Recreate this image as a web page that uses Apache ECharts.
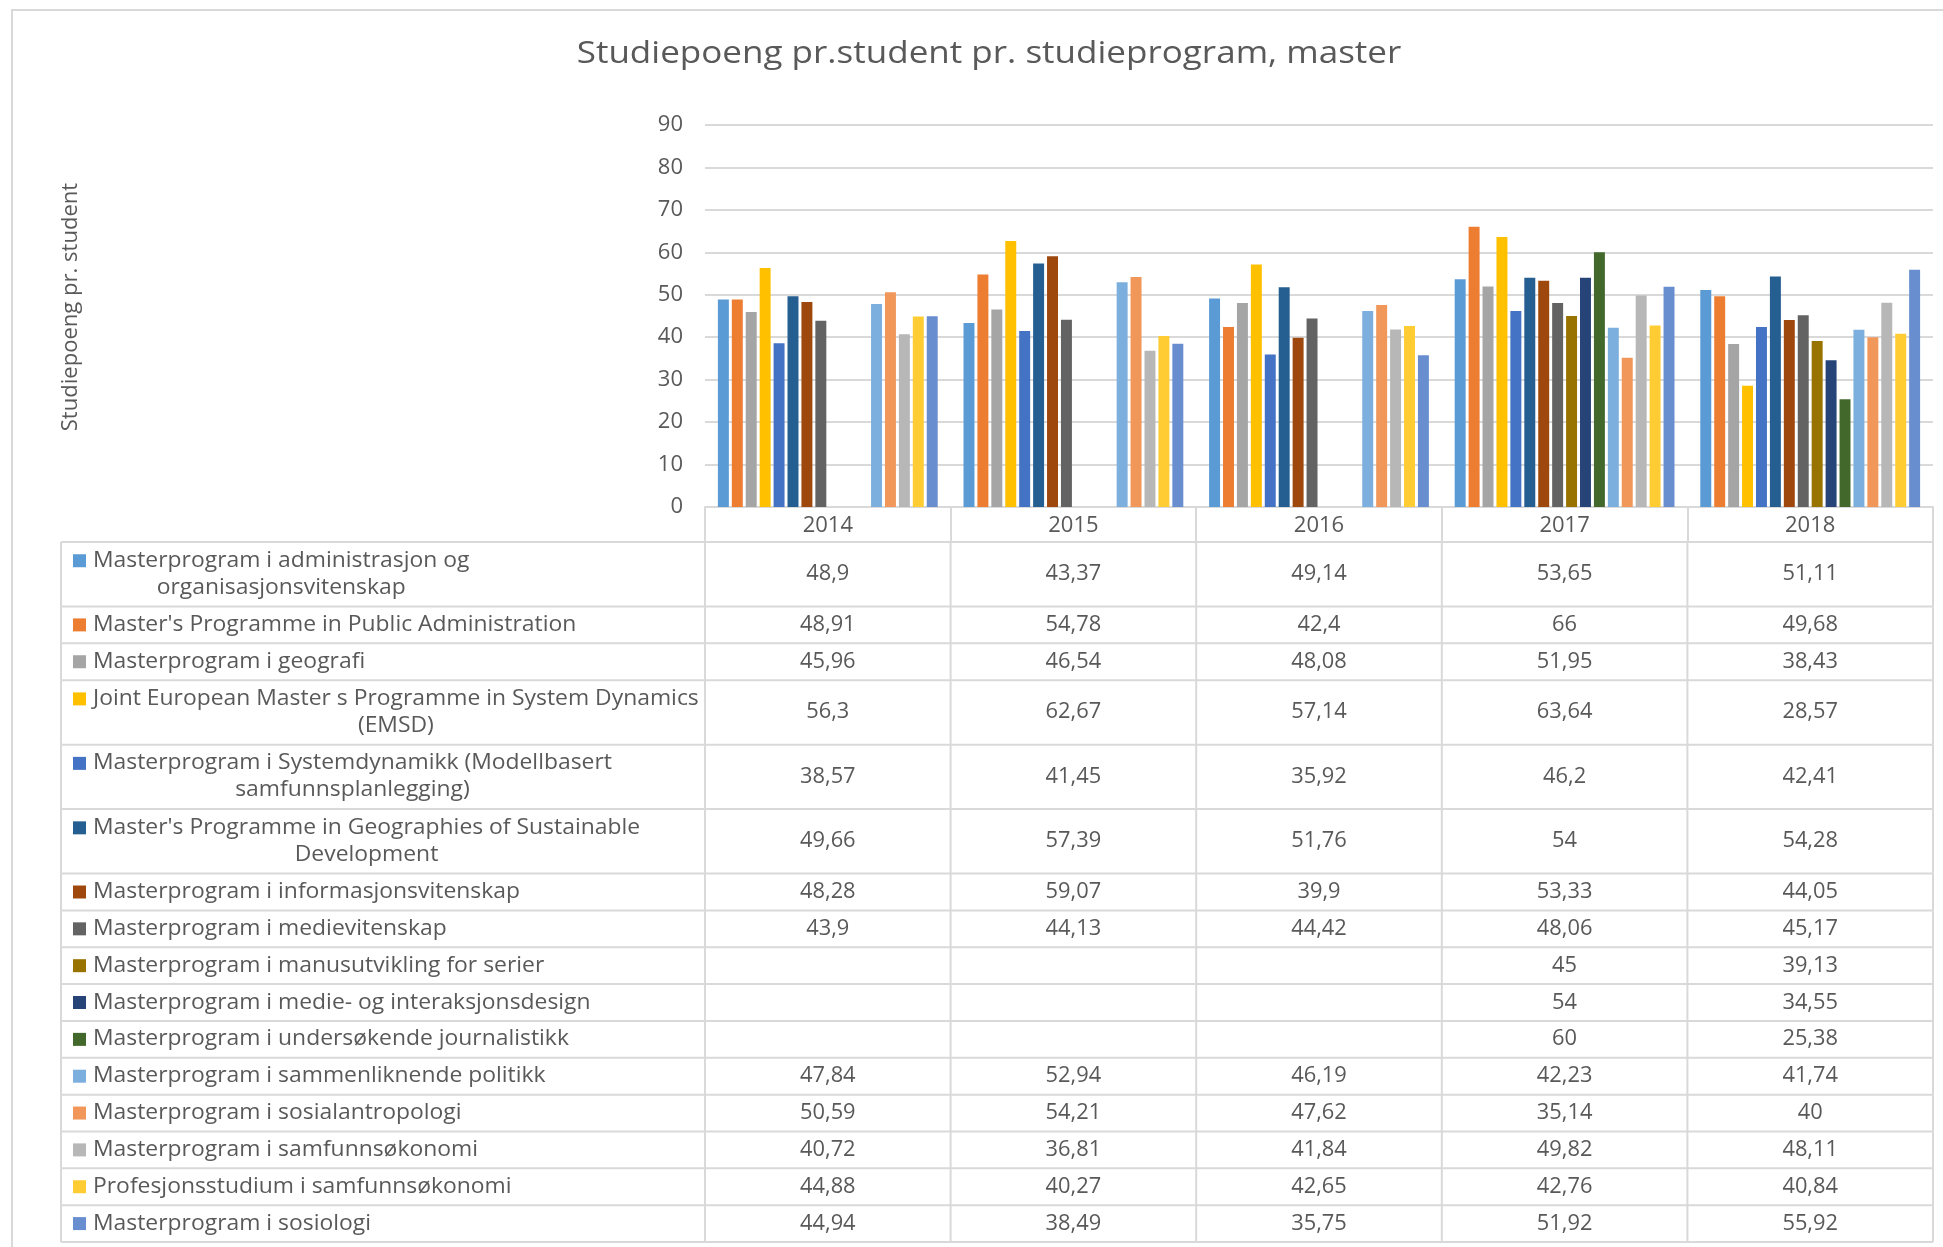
<!DOCTYPE html>
<html><head><meta charset="utf-8">
<script src="https://cdn.jsdelivr.net/npm/echarts/dist/echarts.min.js"></script>
<style>html,body{margin:0;padding:0;background:#fff}#c{width:1943px;height:1247px}</style>
</head><body><div id="c"></div><script>
const categories = ['2014', '2015', '2016', '2017', '2018'];
const seriesNames = [
  'Masterprogram i administrasjon og\norganisasjonsvitenskap',
  "Master's Programme in Public Administration",
  'Masterprogram i geografi',
  'Joint European Master s Programme in System Dynamics\n(EMSD)',
  'Masterprogram i Systemdynamikk (Modellbasert\nsamfunnsplanlegging)',
  "Master's Programme in Geographies of Sustainable\nDevelopment",
  'Masterprogram i informasjonsvitenskap',
  'Masterprogram i medievitenskap',
  'Masterprogram i manusutvikling for serier',
  'Masterprogram i medie- og interaksjonsdesign',
  'Masterprogram i undersøkende journalistikk',
  'Masterprogram i sammenliknende politikk',
  'Masterprogram i sosialantropologi',
  'Masterprogram i samfunnsøkonomi',
  'Profesjonsstudium i samfunnsøkonomi',
  'Masterprogram i sosiologi'
];
const adminOrg      = [48.9, 43.37, 49.14, 53.65, 51.11];
const publicAdmin   = [48.91, 54.78, 42.4, 66, 49.68];
const geografi      = [45.96, 46.54, 48.08, 51.95, 38.43];
const emsd          = [56.3, 62.67, 57.14, 63.64, 28.57];
const systemdyn     = [38.57, 41.45, 35.92, 46.2, 42.41];
const geoSustain    = [49.66, 57.39, 51.76, 54, 54.28];
const informasjon   = [48.28, 59.07, 39.9, 53.33, 44.05];
const medievit      = [43.9, 44.13, 44.42, 48.06, 45.17];
const manus         = [null, null, null, 45, 39.13];
const medieInter    = [null, null, null, 54, 34.55];
const journalistikk = [null, null, null, 60, 25.38];
const sammenPol     = [47.84, 52.94, 46.19, 42.23, 41.74];
const sosialantro   = [50.59, 54.21, 47.62, 35.14, 40];
const samfOkMaster  = [40.72, 36.81, 41.84, 49.82, 48.11];
const samfOkProf    = [44.88, 40.27, 42.65, 42.76, 40.84];
const sosiologi     = [44.94, 38.49, 35.75, 51.92, 55.92];
const seriesValues = [adminOrg, publicAdmin, geografi, emsd, systemdyn, geoSustain, informasjon, medievit,
  manus, medieInter, journalistikk, sammenPol, sosialantro, samfOkMaster, samfOkProf, sosiologi];
const yMin = 0, yMax = 90, yStep = 10;

const colors = ['#5B9BD5', '#ED7D31', '#A5A5A5', '#FFC000', '#4472C4', '#255E91', '#9E480E', '#636363',
  '#997300', '#264478', '#43682B', '#7CAFDD', '#F1975A', '#B7B7B7', '#FFCD33', '#698ED0'];

const FONT = '"Open Sans", sans-serif';
const TEXT = '#595959';
const LINE = '#d9d9d9';
const LW = 2;
const TABLE_LEFT = 61;
const LABEL_X = 93;
const KEY_X = 73;
const LABEL_SIZE = 21;
const LABEL_SX = 1.09;
const VALUE_SIZE = 21;
const LINE_H = 27;

const measureCtx = document.createElement('canvas').getContext('2d');
function textWidth(t, size) { measureCtx.font = size + 'px ' + FONT; return measureCtx.measureText(t).width; }
function fmt(v) { return v == null ? '' : String(v).replace('.', ','); }

// table row layout in row-units (two-line rows are taller)
let acc = 0;
const rowData = seriesNames.map((n, i) => {
  const h = n.indexOf('\n') >= 0 ? 1.75 : 1;
  const r = [0, acc, acc + h, i];
  acc += h;
  return r;
});
const totalUnits = acc;

function renderRow(params, api) {
  const i = api.value(3);
  const cs = params.coordSys;
  const yTop = api.coord([0, api.value(1)])[1];
  const yBot = api.coord([0, api.value(2)])[1];
  const mid = (yTop + yBot) / 2;
  const right = cs.x + cs.width;
  const band = cs.width / categories.length;
  const ls = { stroke: LINE, lineWidth: LW };
  const ch = [];
  if (i === 0) ch.push({ type: 'line', shape: { x1: TABLE_LEFT, y1: yTop, x2: right, y2: yTop }, style: ls });
  ch.push({ type: 'line', shape: { x1: TABLE_LEFT, y1: yBot, x2: right, y2: yBot }, style: ls });
  ch.push({ type: 'line', shape: { x1: TABLE_LEFT, y1: yTop, x2: TABLE_LEFT, y2: yBot }, style: ls });
  for (let j = 0; j <= categories.length; j++) {
    const x = cs.x + j * band;
    ch.push({ type: 'line', shape: { x1: x, y1: yTop, x2: x, y2: yBot }, style: ls });
  }
  const name = seriesNames[i];
  const lines = name.split('\n');
  const firstY = mid - LINE_H * (lines.length - 1) / 2;
  ch.push({ type: 'rect', shape: { x: KEY_X, y: firstY - 6.5, width: 13, height: 13 }, style: { fill: colors[i] } });
  if (lines.length === 1) {
    ch.push({ type: 'text', x: LABEL_X, y: mid, scaleX: LABEL_SX, style: { text: name, align: 'left', verticalAlign: 'middle',
      fontSize: LABEL_SIZE, fontFamily: FONT, fill: TEXT } });
  } else {
    ch.push({ type: 'text', x: LABEL_X + LABEL_SX * textWidth(lines[0], LABEL_SIZE) / 2, y: mid, scaleX: LABEL_SX, style: { text: name,
      align: 'center', verticalAlign: 'middle', lineHeight: LINE_H, fontSize: LABEL_SIZE, fontFamily: FONT, fill: TEXT } });
  }
  seriesValues[i].forEach((v, j) => {
    if (v == null) return;
    const x = api.coord([j, 0])[0];
    ch.push({ type: 'text', x: x, y: mid, scaleX: 1.04, style: { text: fmt(v), align: 'center', verticalAlign: 'middle',
      fontSize: VALUE_SIZE, fontFamily: FONT, fill: TEXT } });
  });
  return { type: 'group', children: ch };
}

const chart = echarts.init(document.getElementById('c'), null, { renderer: 'canvas' });
const barSeries = seriesNames.map((n, i) => ({
  name: n.replace('\n', ' '),
  type: 'bar',
  xAxisIndex: 0, yAxisIndex: 0,
  data: seriesValues[i],
  barGap: '27%',
  barCategoryGap: '10.5%',
  itemStyle: { color: colors[i] },
  emphasis: { disabled: true }
}));

chart.setOption({
  animation: false,
  backgroundColor: '#fff',
  grid: [
    { left: 705, right: 10, top: 125, bottom: 740 },
    { left: 705, right: 10, top: 542, bottom: 5 }
  ],
  xAxis: [
    { type: 'category', data: categories, gridIndex: 0,
      axisLine: { show: true, lineStyle: { color: LINE, width: LW } },
      axisTick: { show: true, length: 35, interval: 0, lineStyle: { color: LINE, width: LW } },
      axisLabel: { margin: 8, color: TEXT, fontFamily: FONT, fontSize: 22 } },
    { type: 'category', data: categories, gridIndex: 1, show: false }
  ],
  yAxis: [
    { type: 'value', gridIndex: 0, min: yMin, max: yMax, interval: yStep,
      axisLine: { show: false }, axisTick: { show: false },
      splitLine: { lineStyle: { color: LINE, width: LW } },
      axisLabel: { margin: 22, color: TEXT, fontFamily: FONT, fontSize: 22 } },
    { type: 'value', gridIndex: 1, min: 0, max: totalUnits, inverse: true, show: false,
      splitLine: { show: false } }
  ],
  graphic: [
    { type: 'rect', shape: { x: 12, y: 10, width: 1960, height: 1260 }, style: { fill: 'none', stroke: LINE, lineWidth: LW }, silent: true },
    { type: 'text', x: 989, y: 54, scaleX: 1.13,
      style: { text: 'Studiepoeng pr.student pr. studieprogram, master', align: 'center', verticalAlign: 'middle',
        fontFamily: FONT, fontSize: 31, fill: TEXT } },
    { type: 'text', x: 71, y: 307, rotation: Math.PI / 2, scaleX: 1.05,
      style: { text: 'Studiepoeng pr. student', align: 'center', verticalAlign: 'middle', fontFamily: FONT, fontSize: 21, fill: TEXT } }
  ],
  series: barSeries.concat([{
    type: 'custom', xAxisIndex: 1, yAxisIndex: 1, clip: false, silent: true,
    data: rowData, encode: { x: 0, y: [1, 2] },
    renderItem: renderRow
  }])
});
</script></body></html>
